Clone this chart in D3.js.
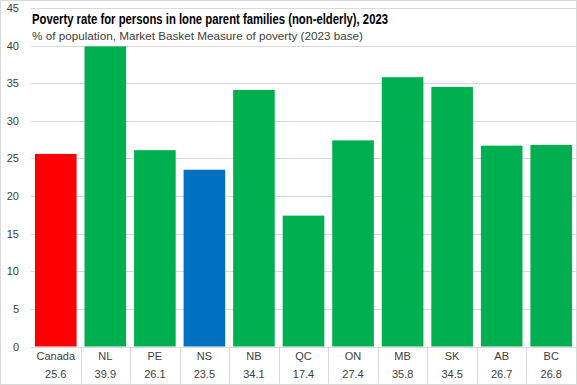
<!DOCTYPE html>
<html>
<head>
<meta charset="utf-8">
<script src="https://cdn.jsdelivr.net/npm/d3@7"></script>
<style>
  body { margin: 0; background: #fff; }
  svg { display: block; }
</style>
</head>
<body>
<div id="chart"></div>
<script>
// Chart data
var categories = ["Canada", "NL", "PE", "NS", "NB", "QC", "ON", "MB", "SK", "AB", "BC"];
var values = [25.6, 39.9, 26.1, 23.5, 34.1, 17.4, 27.4, 35.8, 34.5, 26.7, 26.8];
var barColors = ["#ff0000", "#00b050", "#00b050", "#0070c0", "#00b050", "#00b050", "#00b050", "#00b050", "#00b050", "#00b050", "#00b050"];
var yTicks = [0, 5, 10, 15, 20, 25, 30, 35, 40, 45];

var titleText = "Poverty rate for persons in lone parent families (non-elderly),  2023";
var subtitleText = "% of population, Market Basket Measure of poverty (2023 base)";

// Size and margins
var outer_width = 577;
var outer_height = 385;
var margin = {top: 8, right: 1, bottom: 38.5, left: 31};
var plot_width = outer_width - margin.left - margin.right;
var plot_height = outer_height - margin.top - margin.bottom;

var svg = d3.select("#chart")
    .append("svg")
    .attr("width", outer_width)
    .attr("height", outer_height);

// Outer chart border
svg.append("rect")
    .attr("x", 0.5)
    .attr("y", 0.5)
    .attr("width", outer_width - 1)
    .attr("height", outer_height - 1)
    .attr("fill", "#fff")
    .attr("stroke", "#d9d9d9");

var g = svg.append("g")
    .attr("transform", "translate(" + margin.left + "," + margin.top + ")");

// Scales
var xScale = d3.scaleBand()
    .domain(categories)
    .range([0, plot_width])
    .paddingInner(0.16)
    .paddingOuter(0.08);

var yScale = d3.scaleLinear()
    .domain([0, 45])
    .range([plot_height, 0]);

// Gridlines
g.append("g")
    .selectAll("line")
    .data(yTicks)
    .enter()
    .append("line")
    .attr("x1", 0)
    .attr("x2", plot_width)
    .attr("y1", function(d) { return Math.round(yScale(d)) + 0.5; })
    .attr("y2", function(d) { return Math.round(yScale(d)) + 0.5; })
    .attr("stroke", "#d9d9d9")
    .attr("stroke-width", 1);

// Y axis labels
var yAxis = d3.axisLeft(yScale)
    .tickValues(yTicks)
    .tickSize(0)
    .tickPadding(12);

var yAxisG = g.append("g").call(yAxis);
yAxisG.select(".domain").remove();
yAxisG.selectAll("text")
    .attr("font-family", "Liberation Sans, Arial, sans-serif")
    .attr("font-size", "11px")
    .attr("fill", "#404040");

// Bars
g.selectAll("rect.bar")
    .data(values)
    .enter()
    .append("rect")
    .attr("class", "bar")
    .attr("x", function(d, i) { return xScale(categories[i]); })
    .attr("width", xScale.bandwidth())
    .attr("y", function(d) { return yScale(d); })
    .attr("height", function(d) { return plot_height - yScale(d); })
    .attr("fill", function(d, i) { return barColors[i]; });

// Data table under the axis: separators between categories
var step = xScale.step();
var cellEdges = categories.slice(1).map(function(c) {
    return xScale(c) - xScale.padding() * step / 2;
});
cellEdges.push(plot_width);

g.append("g")
    .selectAll("line")
    .data(cellEdges)
    .enter()
    .append("line")
    .attr("x1", function(d) { return Math.round(d) + 0.5; })
    .attr("x2", function(d) { return Math.round(d) + 0.5; })
    .attr("y1", plot_height)
    .attr("y2", plot_height + 37)
    .attr("stroke", "#d9d9d9");

// Category labels
g.append("g")
    .selectAll("text")
    .data(categories)
    .enter()
    .append("text")
    .attr("x", function(d) { return xScale(d) + xScale.bandwidth() / 2; })
    .attr("y", plot_height + 13)
    .attr("text-anchor", "middle")
    .attr("font-family", "Liberation Sans, Arial, sans-serif")
    .attr("font-size", "11px")
    .attr("fill", "#404040")
    .text(function(d) { return d; });

// Value row
g.append("g")
    .selectAll("text")
    .data(values)
    .enter()
    .append("text")
    .attr("x", function(d, i) { return xScale(categories[i]) + xScale.bandwidth() / 2; })
    .attr("y", plot_height + 31)
    .attr("text-anchor", "middle")
    .attr("font-family", "Liberation Sans, Arial, sans-serif")
    .attr("font-size", "11px")
    .attr("fill", "#404040")
    .text(function(d) { return d3.format(".1f")(d); });

// Title and subtitle
svg.append("text")
    .attr("x", 32)
    .attr("y", 23.5)
    .attr("font-family", "Liberation Sans Narrow, Liberation Sans, Arial, sans-serif")
    .attr("font-weight", "bold")
    .attr("font-size", "14px")
    .attr("fill", "#000")
    .attr("textLength", 356)
    .attr("lengthAdjust", "spacingAndGlyphs")
    .text(titleText);

svg.append("text")
    .attr("x", 32)
    .attr("y", 39.5)
    .attr("font-family", "Liberation Sans, Arial, sans-serif")
    .attr("font-size", "11px")
    .attr("fill", "#404040")
    .attr("textLength", 331)
    .attr("lengthAdjust", "spacingAndGlyphs")
    .text(subtitleText);
</script>
</body>
</html>
